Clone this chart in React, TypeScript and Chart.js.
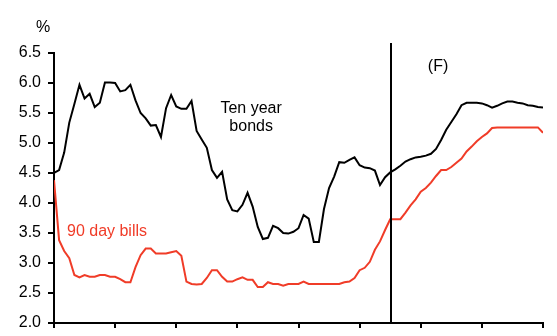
import React, { useEffect, useRef } from "react";
import { Chart, registerables } from "chart.js";

Chart.register(...registerables);

// Monthly observations, index 0..96 (8 years, x ticks every 12 months)
const tenYearBonds = [
  4.5, 4.55, 4.84, 5.34, 5.65, 5.97, 5.74, 5.82, 5.6, 5.67,
  6.01, 6.01, 6.0, 5.86, 5.88, 5.97, 5.71, 5.5, 5.41, 5.29,
  5.3, 5.1, 5.58, 5.8, 5.61, 5.57, 5.57, 5.7, 5.2, 5.06,
  4.92, 4.55, 4.42, 4.52, 4.06, 3.88, 3.86, 3.97, 4.17, 3.94,
  3.6, 3.4, 3.42, 3.62, 3.58, 3.5, 3.49, 3.52, 3.58, 3.8,
  3.74, 3.35, 3.35, 3.9, 4.25, 4.44, 4.68, 4.67, 4.72, 4.76,
  4.63, 4.59, 4.58, 4.54, 4.3, 4.43, 4.51, 4.56, 4.62, 4.69,
  4.73, 4.76, 4.77, 4.79, 4.82, 4.9, 5.05, 5.22, 5.35, 5.48,
  5.63, 5.67, 5.67, 5.67, 5.66, 5.63, 5.59, 5.62, 5.66, 5.69,
  5.69, 5.67, 5.66, 5.63, 5.62, 5.6, 5.59,
];

const ninetyDayBills = [
  4.38, 3.38, 3.2, 3.08, 2.8, 2.76, 2.8, 2.77, 2.77, 2.8,
  2.8, 2.77, 2.77, 2.73, 2.68, 2.68, 2.93, 3.13, 3.24, 3.24,
  3.16, 3.16, 3.16, 3.18, 3.2, 3.12, 2.69, 2.65, 2.64, 2.65,
  2.75, 2.88, 2.88, 2.77, 2.69, 2.69, 2.73, 2.76, 2.72, 2.72,
  2.6, 2.6, 2.68, 2.65, 2.65, 2.62, 2.65, 2.65, 2.65, 2.69,
  2.65, 2.65, 2.65, 2.65, 2.65, 2.65, 2.65, 2.68, 2.69, 2.75,
  2.88, 2.92, 3.02, 3.22, 3.36, 3.55, 3.73, 3.73, 3.73, 3.84,
  3.96, 4.06, 4.19, 4.25, 4.34, 4.45, 4.55, 4.55, 4.6, 4.67,
  4.74, 4.86, 4.94, 5.03, 5.1, 5.16, 5.25, 5.26, 5.26, 5.26,
  5.26, 5.26, 5.26, 5.26, 5.26, 5.26, 5.17,
];

const yTicks = [2.0, 2.5, 3.0, 3.5, 4.0, 4.5, 5.0, 5.5, 6.0, 6.5];
const monthsPerTick = 12;
const forecastStart = 66.2; // month index where the forecast begins
const seriesNames = ["Ten year bonds", "90 day bills"];

const FONT = '"Liberation Sans", Arial, sans-serif';
const RED = "#f03c28";

export default function App() {
  const ref = useRef<HTMLCanvasElement | null>(null);

  useEffect(() => {
    const canvas = ref.current;
    if (!canvas) return;
    const toPts = (arr: number[]) => arr.map((v, i) => ({ x: i, y: v }));

    const annotations = {
      id: "annotations",
      afterDraw(chart: any) {
        const { ctx, chartArea, scales } = chart;
        const xs = scales.x;
        const ys = scales.y;
        ctx.save();
        const vx = Math.round(xs.getPixelForValue(forecastStart));
        ctx.strokeStyle = "#000";
        ctx.lineWidth = 2;
        ctx.beginPath();
        ctx.moveTo(vx, chartArea.top - 10);
        ctx.lineTo(vx, chartArea.bottom);
        ctx.stroke();

        ctx.font = `16px ${FONT}`;
        ctx.textBaseline = "middle";
        ctx.fillStyle = "#000";
        ctx.textAlign = "center";
        ctx.fillText("(F)", xs.getPixelForValue(75.4), ys.getPixelForValue(6.27));
        ctx.fillText("Ten year", xs.getPixelForValue(38.7), ys.getPixelForValue(5.58));
        ctx.fillText("bonds", xs.getPixelForValue(38.7), ys.getPixelForValue(5.27));
        ctx.fillStyle = RED;
        ctx.textAlign = "left";
        ctx.fillText("90 day bills", xs.getPixelForValue(2.55), ys.getPixelForValue(3.53));
        ctx.fillStyle = "#000";
        ctx.textAlign = "center";
        ctx.fillText("%", chartArea.left - 11, chartArea.top - 25);
        ctx.restore();
      },
    };

    const chart = new Chart(canvas, {
      type: "line",
      data: {
        datasets: [
          {
            label: seriesNames[0],
            data: toPts(tenYearBonds),
            borderColor: "#000",
            borderWidth: 2,
            pointRadius: 0,
            tension: 0,
          },
          {
            label: seriesNames[1],
            data: toPts(ninetyDayBills),
            borderColor: RED,
            borderWidth: 2,
            pointRadius: 0,
            tension: 0,
          },
        ],
      },
      options: {
        animation: false,
        responsive: false,
        layout: { padding: { top: 53, right: 14, bottom: 0, left: 0 } },
        plugins: { legend: { display: false }, tooltip: { enabled: false } },
        scales: {
          x: {
            type: "linear",
            min: 0,
            max: tenYearBonds.length - 1,
            ticks: { stepSize: monthsPerTick, callback: () => "", display: true },
            grid: {
              display: true,
              drawOnChartArea: false,
              drawTicks: true,
              tickLength: 5,
              color: "#000",
              lineWidth: 2,
            },
            border: { display: true, color: "#000", width: 2 },
            afterFit: (s: any) => {
              s.height = 13;
              s.paddingLeft = 0;
              s.paddingRight = 0;
              s.paddingTop = 0;
              s.paddingBottom = 0;
            },
          },
          y: {
            min: yTicks[0],
            max: yTicks[yTicks.length - 1],
            afterBuildTicks: (s: any) => {
              s.ticks = yTicks.map((v) => ({ value: v }));
            },
            ticks: {
              color: "#000",
              font: { family: FONT, size: 16 },
              padding: 7,
              callback: (v: any) => Number(v).toFixed(1),
            },
            grid: {
              display: true,
              drawOnChartArea: false,
              drawTicks: true,
              tickLength: 6,
              color: "#000",
              lineWidth: 2,
            },
            border: { display: true, color: "#000", width: 2 },
            afterFit: (s: any) => {
              s.width = 54;
              s.paddingTop = 0;
              s.paddingBottom = 0;
            },
          },
        },
      },
      plugins: [annotations],
    });
    return () => chart.destroy();
  }, []);

  return (
    <div style={{ position: "fixed", left: 0, top: 0, width: 557, height: 336, background: "#fff" }}>
      <canvas ref={ref} width={557} height={336} />
    </div>
  );
}
